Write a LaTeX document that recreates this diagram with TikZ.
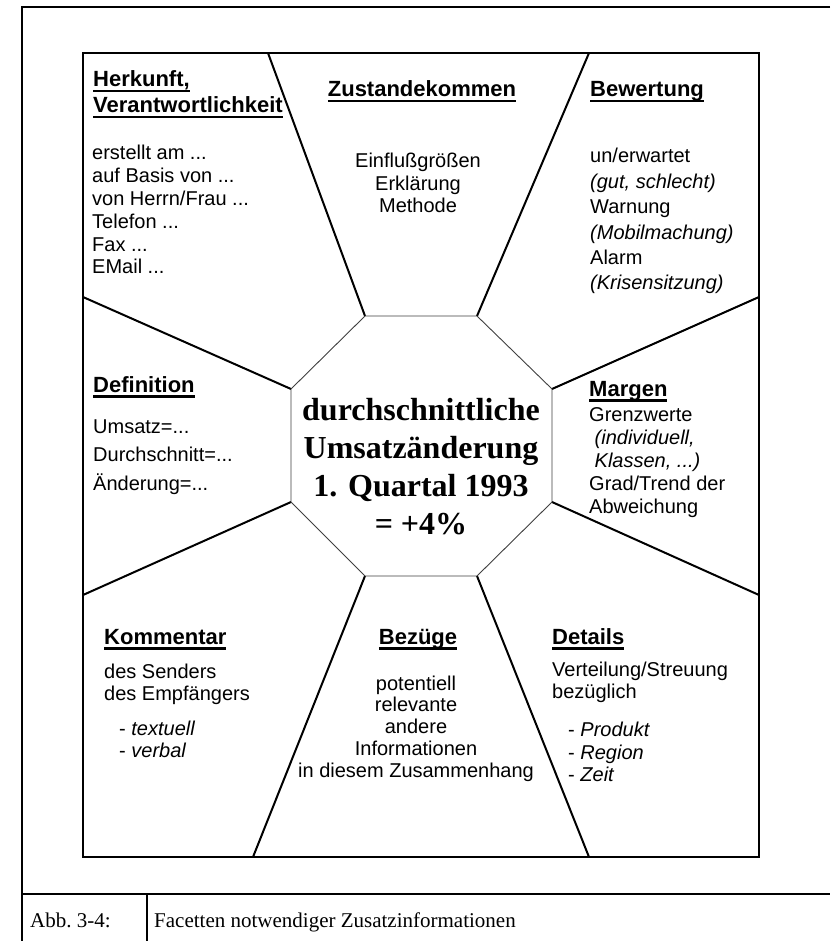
\documentclass[tikz,border=0pt]{standalone}
\usepackage{fontspec}
\setmainfont{Liberation Serif}
\newfontfamily\arialfont{Liberation Sans}

% underlined heading word
\newcommand\hdr[1]{\setbox0\hbox{#1}\rlap{\rule[-5.5pt]{\wd0}{2.4pt}}\box0}
% stacks of lines with a fixed baseline distance; node base = first baseline
\newcommand\leftstack[2]{\vtop{\baselineskip=#1\lineskip=0pt\lineskiplimit=-100pt\halign{##\hfil\cr#2\crcr}}}
\newcommand\centerstack[2]{\vtop{\baselineskip=#1\lineskip=0pt\lineskiplimit=-100pt\halign{\hfil##\hfil\cr#2\crcr}}}

\tikzset{
  body/.style={font=\arialfont\fontsize{20}{22}\selectfont, inner sep=0pt},
  head/.style={font=\arialfont\bfseries\fontsize{22}{26}\selectfont, inner sep=0pt},
  core/.style={font=\bfseries\fontsize{32}{38}\selectfont, inner sep=0pt},
  captext/.style={font=\fontsize{21}{25}\selectfont, inner sep=0pt, anchor=base west},
  frameline/.style={line width=1.3pt},
  boxline/.style={line width=2.7pt, line join=miter},
  spoke/.style={line width=2pt},
  octo/.style={line width=0.9pt, draw=black!75},
}

\begin{document}
\begin{tikzpicture}[x=1pt, y=-1pt]
\fill[white] (0,0) rectangle (830,941);
\useasboundingbox (0,0) rectangle (830,941);

% outer frame with caption row
\coordinate (ftl) at (22,7);
\coordinate (ftr) at (830,7);
\coordinate (fbl) at (22,941);
\coordinate (cl) at (22,894);
\coordinate (cr) at (830,894);
\coordinate (dt) at (147,894);
\coordinate (db) at (147,941);
\draw[frameline] (ftr) -- (ftl) -- (fbl);
\draw[frameline] (cl) -- (cr);
\draw[frameline] (dt) -- (db);

% octagon corners
\coordinate (o1) at (365,316);
\coordinate (o2) at (477,316);
\coordinate (o3) at (552,389);
\coordinate (o4) at (552,502);
\coordinate (o5) at (477,576);
\coordinate (o6) at (365,576);
\coordinate (o7) at (291,502);
\coordinate (o8) at (291,389);

% points on the outer box
\coordinate (b1) at (268,53);
\coordinate (b2) at (589,53);
\coordinate (b3) at (759,297);
\coordinate (b4) at (759,595);
\coordinate (b5) at (589,857);
\coordinate (b6) at (253,857);
\coordinate (b7) at (83,595);
\coordinate (b8) at (83,297);

% spokes separating the facets
\draw[spoke] (o1) -- (b1);
\draw[spoke] (o2) -- (b2);
\draw[spoke] (o3) -- (b3);
\draw[spoke] (o4) -- (b4);
\draw[spoke] (o5) -- (b5);
\draw[spoke] (o6) -- (b6);
\draw[spoke] (o7) -- (b7);
\draw[spoke] (o8) -- (b8);

% central octagon and outer box
\draw[octo] (o1) -- (o2) -- (o3) -- (o4) -- (o5) -- (o6) -- (o7) -- (o8) -- cycle;
\draw[boxline] (83,53) rectangle (759,857);

% centre
\node[core, anchor=base] (core) at (421,420)
  {\centerstack{38.3pt}{durchschnittliche\cr Umsatzänderung\cr 1. Quartal 1993\cr = +4\%}};

% Herkunft, Verantwortlichkeit
\node[head, anchor=base west] (herH) at (93,87)
  {\leftstack{26pt}{\hdr{Herkunft,}\cr\hdr{Verantwortlichkeit}}};
\node[body, anchor=base west] (herB) at (92,160)
  {\leftstack{22.8pt}{erstellt am ...\cr auf Basis von ...\cr von Herrn/Frau ...\cr Telefon ...\cr Fax ...\cr EMail ...}};

% Zustandekommen
\node[head, anchor=base] (zusH) at (422,97) {\hdr{Zustandekommen}};
\node[body, anchor=base] (zusB) at (418,168)
  {\centerstack{22.5pt}{Einflußgrößen\cr Erklärung\cr Methode}};

% Bewertung
\node[head, anchor=base west] (bewH) at (590,97) {\hdr{Bewertung}};
\node[body, anchor=base west] (bewB) at (590,163)
  {\leftstack{25.4pt}{un/erwartet\cr{\itshape (gut, schlecht)}\cr Warnung\cr{\itshape (Mobilmachung)}\cr Alarm\cr{\itshape (Krisensitzung)}}};

% Definition
\node[head, anchor=base west] (defH) at (93,392) {\hdr{Definition}};
\node[body, anchor=base west] (defB) at (93,433)
  {\leftstack{28.5pt}{Umsatz=...\cr Durchschnitt=...\cr Änderung=...}};

% Margen
\node[head, anchor=base west] (marH) at (589,396) {\hdr{Margen}};
\node[body, anchor=base west] (marB) at (589,421)
  {\leftstack{23pt}{Grenzwerte\cr\hspace*{5.5pt}{\itshape (individuell,}\cr\hspace*{5.5pt}{\itshape Klassen, ...)}\cr Grad/Trend der\cr Abweichung}};

% Kommentar
\node[head, anchor=base west] (komH) at (104,644) {\hdr{Kommentar}};
\node[body, anchor=base west] (komB) at (104,678)
  {\leftstack{22pt}{des Senders\cr des Empfängers\cr\noalign{\vskip 13pt}\hspace*{15pt}- {\itshape textuell}\cr\hspace*{15pt}- {\itshape verbal}}};

% Bezüge
\node[head, anchor=base] (bezH) at (418,644) {\hdr{Bezüge}};
\node[body, anchor=base] (bezB) at (416,690)
  {\centerstack{21.75pt}{potentiell\cr relevante\cr andere\cr Informationen\cr in diesem Zusammenhang}};

% Details
\node[head, anchor=base west] (detH) at (552,644) {\hdr{Details}};
\node[body, anchor=base west] (detB) at (552,676)
  {\leftstack{22.5pt}{Verteilung/Streuung\cr bezüglich\cr\noalign{\vskip 15.5pt}\hspace*{16pt}- {\itshape Produkt}\cr\hspace*{16pt}- {\itshape Region}\cr\hspace*{16pt}- {\itshape Zeit}}};

% caption row
\node[captext] (capnum) at (30,927) {Abb.\ 3-4:};
\node[captext] (captxt) at (154,927) {Facetten notwendiger Zusatzinformationen};
\end{tikzpicture}
\end{document}
